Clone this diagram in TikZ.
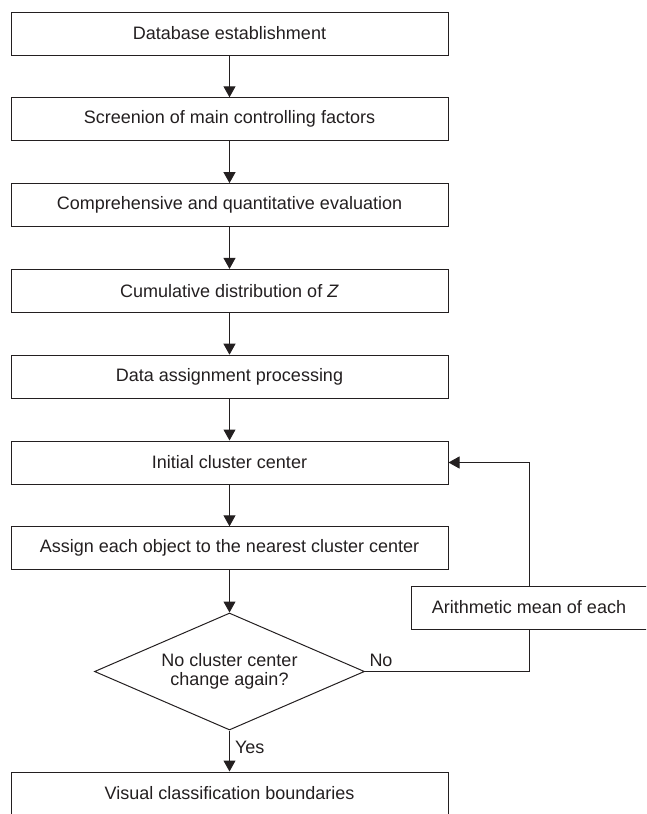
\documentclass[tikz,border=0pt]{standalone}
\usepackage{fontspec}
\setmainfont{Liberation Sans}
\usetikzlibrary{arrows.meta,shapes.geometric}
\definecolor{ink}{HTML}{231F20}

\begin{document}
\begin{tikzpicture}[x=1pt,y=-1pt]
  \clip (0,0) rectangle (646,814);

  %stili
  \tikzset{every node/.style={font=\fontsize{18}{18.5}\selectfont, text=ink},
    box/.style={draw=ink, line width=1pt, minimum width=437pt, minimum height=43pt, inner sep=0pt},
    decision/.style={diamond, shape aspect=2.31, draw=ink, line width=1pt, minimum width=270pt, minimum height=117pt, inner sep=0pt, align=center},
    arc/.style={draw=ink, line width=1pt, -{Triangle[length=11pt,width=12pt]}}}

  %passi
  \node[box] (base) at (229.5,33.5) {Database establishment};
  \node[box] (screen) at (229.5,119.3) {Screenion of main controlling factors};
  \node[box] (eval) at (229.5,205.1) {Comprehensive and quantitative evaluation};
  \node[box] (cumul) at (229.5,290.9) {Cumulative distribution of \textit{Z}};
  \node[box] (assign) at (229.5,376.7) {Data assignment processing};
  \node[box] (init) at (229.5,462.5) {Initial cluster center};
  \node[box] (near) at (229.5,548.3) {Assign each object to the nearest cluster center};
  \node[decision] (check) at (229.5,671.5) {No cluster center\\change again?};
  \node[box] (mean) at (529,607.5) [minimum width=236pt] {Arithmetic mean of each};
  \node[box] (visual) at (229.5,793.5) {Visual classification boundaries};

  %frecce
  \draw[arc] (base) -- (screen);
  \draw[arc] (screen) -- (eval);
  \draw[arc] (eval) -- (cumul);
  \draw[arc] (cumul) -- (assign);
  \draw[arc] (assign) -- (init);
  \draw[arc] (init) -- (near);
  \draw[arc] (near) -- (check);
  \draw[arc] (check) -- (visual) node[pos=0.4, right, inner sep=5pt] {Yes};
  \draw[line width=1pt, draw=ink] (check.east) node[above right, inner sep=4pt] {No} -| (mean.south);
  \draw[arc] (mean.north) |- (init.east);

\end{tikzpicture}
\end{document}
